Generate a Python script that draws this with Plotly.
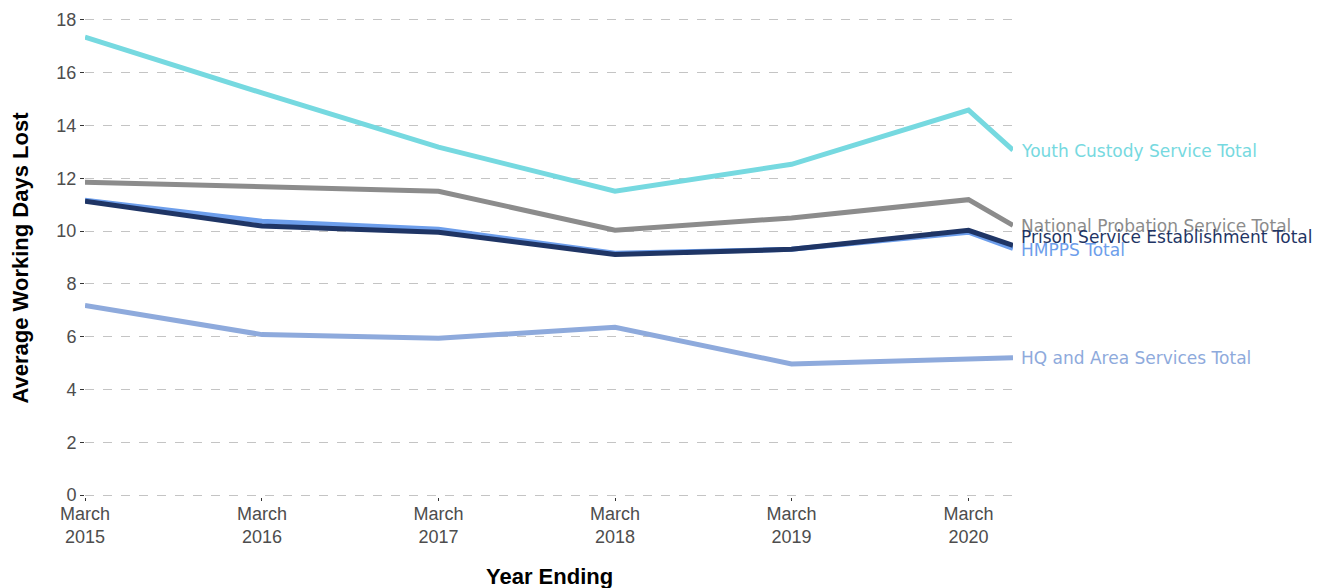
import plotly.graph_objects as go

dates = ["2015-03-01", "2016-03-01", "2017-03-01", "2018-03-01", "2019-03-01", "2020-03-01", "2020-06-01"]
tick_vals = ["2015-03-01", "2016-03-01", "2017-03-01", "2018-03-01", "2019-03-01", "2020-03-01"]
tick_text = ["March<br>2015", "March<br>2016", "March<br>2017", "March<br>2018", "March<br>2019", "March<br>2020"]

series_names = ["Youth Custody Service Total", "National Probation Service Total", "HMPPS Total",
                "Prison Service Establishment Total", "HQ and Area Services Total"]
youth = [17.35, 15.23, 13.18, 11.51, 12.53, 14.58, 13.07]
nps = [11.85, 11.70, 11.51, 10.03, 10.50, 11.19, 10.22]
hmpps = [11.17, 10.37, 10.07, 9.16, 9.31, 9.96, 9.34]
prison = [11.13, 10.19, 9.96, 9.11, 9.31, 10.03, 9.46]
hq = [7.18, 6.08, 5.94, 6.36, 4.97, 5.17, 5.20]
label_y = [13.04, 10.19, 9.27, 9.77, 5.18]
colors = ["#76d9e0", "#8c8c8c", "#6d9eeb", "#1f3565", "#8eaadc"]

all_values = [youth, nps, hmpps, prison, hq]

fig = go.Figure()
for name, vals, col in zip(series_names, all_values, colors):
    fig.add_trace(go.Scatter(x=dates, y=vals, mode="lines", name=name,
                             line=dict(color=col, width=5), showlegend=False))

annotations = []
for name, ly, col in zip(series_names, label_y, colors):
    annotations.append(dict(x=dates[-1], y=ly, xref="x", yref="y", text=name, showarrow=False,
                            xanchor="left", yanchor="middle", xshift=6,
                            font=dict(family="DejaVu Sans", size=17, color=col)))

annotations.append(dict(x=0.5, y=0, xref="paper", yref="paper", text="<b>Year Ending</b>",
                        showarrow=False, xanchor="center", yanchor="middle", yshift=-79,
                        font=dict(family="Liberation Sans", size=22, color="#000000")))
annotations.append(dict(x=0, y=0.5, xref="paper", yref="paper", text="<b>Average Working Days Lost</b>",
                        showarrow=False, xanchor="center", yanchor="middle", xshift=-65, textangle=-90,
                        font=dict(family="Liberation Sans", size=22, color="#000000")))

fig.update_layout(
    width=1312, height=580,
    margin=dict(l=77, r=307, t=10, b=91, autoexpand=False),
    plot_bgcolor="white", paper_bgcolor="white",
    annotations=annotations,
    font=dict(family="Liberation Sans"),
)
fig.update_xaxes(range=[dates[0], dates[-1]], tickvals=tick_vals, ticktext=tick_text,
                 showgrid=False, zeroline=False, showline=False, automargin=False,
                 ticks="outside", ticklen=3, tickcolor="#333333", ticklabelstandoff=-3,
                 tickfont=dict(family="Liberation Sans", size=18, color="#4d4d4d"))
fig.update_yaxes(range=[-0.07, 18.07], tickvals=[0, 2, 4, 6, 8, 10, 12, 14, 16, 18],
                 showgrid=True, gridcolor="#c4c4c4", gridwidth=1, griddash="dash",
                 zeroline=False, showline=False, automargin=False,
                 ticks="outside", ticklen=4, tickcolor="#333333",
                 tickfont=dict(family="Liberation Sans", size=18, color="#4d4d4d"))

fig.write_html("out.html")
